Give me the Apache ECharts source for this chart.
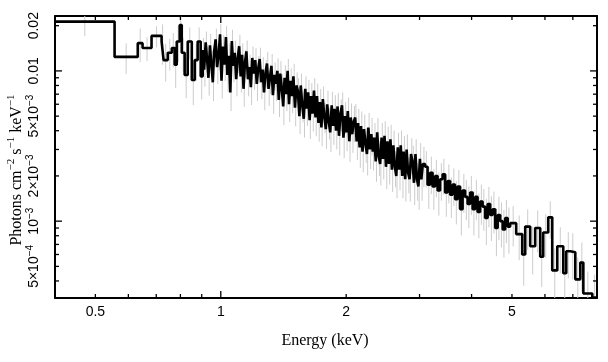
<!DOCTYPE html>
<html><head><meta charset="utf-8">
<script src="https://cdn.jsdelivr.net/npm/echarts@6/dist/echarts.min.js"></script>
<style>html,body{margin:0;padding:0;background:#fff}#c{width:608px;height:362px}</style>
</head><body><div id="c"></div>
<script>
// Bin edges (keV)
const binEdges = [
  0.400, 0.556, 0.632, 0.649, 0.682, 0.721, 0.729, 0.746, 0.763, 0.775, 0.784, 0.797, 0.806,
  0.819, 0.833, 0.852, 0.866, 0.880, 0.895,
  0.905, 0.912, 0.920, 0.927, 0.934, 0.942, 0.949, 0.957, 0.964, 0.972, 0.980, 0.988, 0.996,
  1.004, 1.012, 1.021, 1.029, 1.037, 1.046, 1.054, 1.063, 1.071, 1.080, 1.089, 1.098, 1.107,
  1.116, 1.125, 1.134, 1.143, 1.152, 1.162, 1.171, 1.181, 1.190, 1.200, 1.210, 1.220, 1.230,
  1.240, 1.250, 1.260, 1.270, 1.281, 1.291, 1.302, 1.312, 1.323, 1.334, 1.345, 1.356, 1.367,
  1.378, 1.389, 1.400, 1.412, 1.423, 1.435, 1.447, 1.458, 1.470, 1.482, 1.494, 1.507, 1.519,
  1.531, 1.544, 1.556, 1.569, 1.582, 1.595, 1.608, 1.621, 1.634, 1.647, 1.661, 1.674, 1.688,
  1.702, 1.716, 1.730, 1.744, 1.758, 1.772, 1.787, 1.801, 1.816, 1.831, 1.846, 1.861, 1.876,
  1.891, 1.907, 1.922, 1.938, 1.954, 1.970, 1.986, 2.002, 2.018, 2.035, 2.051, 2.068, 2.085,
  2.102, 2.119, 2.136, 2.154, 2.171, 2.189, 2.207, 2.225, 2.243, 2.261, 2.280, 2.298, 2.317,
  2.336, 2.355, 2.374, 2.393, 2.413, 2.432, 2.452, 2.472, 2.492, 2.513, 2.533, 2.554, 2.575,
  2.596, 2.617, 2.638, 2.660, 2.682, 2.704, 2.726, 2.748, 2.771, 2.793, 2.816, 2.839, 2.862,
  2.886, 2.909, 2.933, 2.957, 2.981, 3.006, 3.030, 3.055,
  3.093, 3.136, 3.180, 3.224, 3.269, 3.315, 3.361, 3.408, 3.455, 3.503, 3.552, 3.601, 3.651,
  3.702, 3.754, 3.806, 3.859, 3.913, 3.967, 4.023, 4.079, 4.135, 4.193, 4.251, 4.311, 4.371,
  4.432, 4.494, 4.557, 4.620, 4.685, 4.750, 4.816, 4.883,
  4.951, 5.118, 5.291, 5.380, 5.530, 5.685, 5.845, 5.943, 6.110, 6.247, 6.423, 6.639, 6.750,
  6.903, 7.096, 7.295, 7.418, 7.795, 8.000
];
// Flux per bin (photons cm^-2 s^-1 keV^-1)
const flux = [
  21.3e-3, 12.4e-3, 15.3e-3, 14.2e-3, 17.1e-3, 15.7e-3, 11.8e-3, 13.2e-3, 14.2e-3, 11.0e-3,
  15.7e-3, 20.2e-3, 13.2e-3, 9.4e-3, 15.7e-3, 8.7e-3, 11.8e-3, 15.7e-3, 9.2e-3,
  13.8e-3, 10.2e-3, 15.5e-3, 12.0e-3, 9.0e-3, 14.8e-3, 11.2e-3, 8.4e-3, 13.5e-3, 16.2e-3, 10.6e-3, 12.8e-3, 17.5e-3,
  8.6e-3, 14.5e-3, 11.0e-3, 16.8e-3, 9.4e-3, 12.6e-3, 7.2e-3, 15.8e-3, 10.8e-3, 13.2e-3, 8.8e-3, 12.2e-3, 14.6e-3,
  9.2e-3, 12.8e-3, 7.6e-3, 11.4e-3, 13.5e-3, 8.8e-3, 10.6e-3, 7.8e-3, 12.2e-3, 9.6e-3, 11.8e-3, 8.2e-3, 10.4e-3,
  12.0e-3, 8.4e-3, 10.2e-3, 7.2e-3, 9.8e-3, 11.2e-3, 7.6e-3, 9.0e-3, 10.8e-3, 6.9e-3, 9.4e-3, 8.2e-3, 10.0e-3,
  6.4e-3, 9.6e-3, 7.8e-3, 5.8e-3, 9.0e-3, 7.0e-3, 10.0e-3, 6.0e-3, 8.6e-3, 6.8e-3, 9.2e-3, 5.7e-3, 8.0e-3,
  7.4e-3, 5.0e-3, 8.0e-3, 5.9e-3, 4.8e-3, 7.6e-3, 5.6e-3, 7.2e-3, 4.7e-3, 6.8e-3, 5.2e-3, 7.4e-3, 4.9e-3,
  6.8e-3, 4.5e-3, 6.2e-3, 4.2e-3, 6.5e-3, 5.0e-3, 4.1e-3, 6.0e-3, 4.6e-3, 3.9e-3, 5.9e-3, 4.3e-3, 5.6e-3,
  4.0e-3, 5.8e-3, 3.7e-3, 5.2e-3, 5.9e-3, 3.6e-3, 5.0e-3, 3.9e-3, 5.4e-3, 3.4e-3, 4.9e-3, 3.8e-3, 4.6e-3,
  4.9e-3, 3.4e-3, 4.5e-3, 3.1e-3, 4.3e-3, 2.9e-3, 4.1e-3, 3.3e-3, 2.8e-3, 4.2e-3, 3.0e-3, 3.8e-3, 2.9e-3,
  3.6e-3, 2.5e-3, 3.9e-3, 2.7e-3, 2.4e-3, 3.6e-3, 2.6e-3, 3.7e-3, 2.3e-3, 3.4e-3, 2.4e-3, 3.5e-3, 2.2e-3,
  3.2e-3, 2.3e-3, 2.0e-3, 3.1e-3, 2.2e-3, 3.2e-3, 2.0e-3, 2.9e-3, 1.9e-3, 3.0e-3, 2.1e-3, 1.9e-3, 2.8e-3,
  2.5e-3, 1.8e-3, 2.8e-3, 1.9e-3, 1.7e-3, 2.6e-3, 1.9e-3, 2.4e-3,
  2.3e-3, 1.75e-3, 2.1e-3, 1.7e-3, 2.0e-3, 1.6e-3, 1.9e-3, 2.05e-3, 1.55e-3, 1.85e-3,
  1.5e-3, 1.75e-3, 1.4e-3, 1.7e-3, 1.2e-3, 1.6e-3, 1.45e-3, 1.3e-3, 1.55e-3, 1.2e-3,
  1.45e-3, 1.15e-3, 1.35e-3, 1.25e-3, 1.05e-3, 1.3e-3, 1.1e-3, 1.2e-3, 0.9e-3, 1.1e-3,
  1.0e-3, 0.88e-3, 1.05e-3, 0.92e-3,
  0.97e-3, 0.82e-3, 0.60e-3, 0.92e-3, 0.68e-3, 0.90e-3, 0.58e-3, 0.84e-3, 1.06e-3, 0.47e-3,
  0.68e-3, 0.45e-3, 0.63e-3, 0.62e-3, 0.41e-3, 0.53e-3, 0.33e-3, 0.31e-3
];
// Relative 1-sigma error per bin
const fluxRelErr = [
  0.20, 0.23, 0.25, 0.18, 0.16, 0.30, 0.28, 0.24, 0.26, 0.30, 0.27, 0.22, 0.26, 0.30, 0.24,
  0.32, 0.27, 0.24, 0.30,
  0.20, 0.23, 0.18, 0.21, 0.24, 0.19, 0.22, 0.25, 0.20, 0.18, 0.23, 0.21, 0.17,
  0.24, 0.19, 0.22, 0.18, 0.23, 0.21, 0.25, 0.19, 0.22, 0.20, 0.23, 0.21, 0.19,
  0.22, 0.19, 0.24, 0.21, 0.18, 0.23, 0.21, 0.24, 0.19, 0.22, 0.20, 0.23, 0.21,
  0.19, 0.23, 0.21, 0.24, 0.21, 0.19, 0.23, 0.22, 0.20, 0.25, 0.21, 0.23, 0.21,
  0.23, 0.21, 0.22, 0.25, 0.21, 0.23, 0.20, 0.24, 0.21, 0.23, 0.21, 0.25, 0.22,
  0.21, 0.24, 0.20, 0.23, 0.25, 0.21, 0.23, 0.21, 0.25, 0.22, 0.24, 0.21, 0.25,
  0.21, 0.25, 0.22, 0.25, 0.21, 0.23, 0.26, 0.23, 0.24, 0.26, 0.23, 0.25, 0.23,
  0.25, 0.23, 0.26, 0.24, 0.22, 0.27, 0.24, 0.25, 0.23, 0.27, 0.24, 0.25, 0.27,
  0.23, 0.25, 0.24, 0.27, 0.25, 0.27, 0.25, 0.26, 0.28, 0.25, 0.26, 0.28, 0.25,
  0.25, 0.27, 0.24, 0.26, 0.28, 0.25, 0.27, 0.25, 0.29, 0.25, 0.27, 0.25, 0.29,
  0.25, 0.27, 0.29, 0.25, 0.27, 0.25, 0.29, 0.27, 0.29, 0.26, 0.27, 0.29, 0.27,
  0.27, 0.29, 0.25, 0.28, 0.30, 0.27, 0.28, 0.30,
  0.27, 0.31, 0.28, 0.30, 0.28, 0.32, 0.28, 0.27, 0.31, 0.29, 0.30, 0.28, 0.32, 0.29, 0.33,
  0.29, 0.30, 0.31, 0.29, 0.33, 0.30, 0.33, 0.30, 0.31, 0.34, 0.30, 0.33, 0.31, 0.35, 0.32,
  0.33, 0.35, 0.32, 0.34,
  0.30, 0.33, 0.38, 0.30, 0.35, 0.31, 0.37, 0.32, 0.28, 0.40, 0.34, 0.40, 0.34, 0.34, 0.40,
  0.36, 0.40, 0.42
];

const xRange = [0.4, 8];
const yRange = [3.08e-4, 0.0232];
const xMajorTicks = [1];
const xMinorTicks = [0.5, 0.6, 0.7, 0.8, 0.9, 2, 3, 4, 5, 6, 7];
const xLabelValues = [0.5, 1, 2, 5];
const xLabelTexts = ['0.5', '1', '2', '5'];
const yMajorTicks = [0.01, 0.001];
const yMinorTicks = [0.02, 0.009, 0.008, 0.007, 0.006, 0.005, 0.004, 0.003, 0.002,
                     0.0009, 0.0008, 0.0007, 0.0006, 0.0005, 0.0004];
const yLabelValues = [0.02, 0.01, 0.005, 0.002, 0.001, 0.0005];
const yLabelTexts = ['0.02', '0.01', '5×10{s|−3}', '2×10{s|−3}', '10{s|−3}', '5×10{s|−4}'];
const xTitle = 'Energy (keV)';
const yTitle = 'Photons cm{s|−2} s{s|−1} keV{s|−1}';

const SANS = '"Liberation Sans", Arial, Helvetica, sans-serif';
const SERIF = '"Liberation Serif", "Times New Roman", Times, serif';

const nBins = Math.min(flux.length, binEdges.length - 1, fluxRelErr.length);
const stepData = [];
for (let i = 0; i < nBins; i++) {
  stepData.push([binEdges[i], flux[i]], [binEdges[i + 1], flux[i]]);
}
const errData = [];
for (let i = 0; i < nBins; i++) {
  errData.push([Math.sqrt(binEdges[i] * binEdges[i + 1]),
    flux[i] * (1 - fluxRelErr[i]), flux[i] * (1 + fluxRelErr[i])]);
}

const MAJ = 7, MIN = 4;
const xTickData = xMajorTicks.map(v => [v, yRange[0], MAJ]).concat(xMinorTicks.map(v => [v, yRange[0], MIN]));
const yTickData = yMajorTicks.map(v => [xRange[0], v, MAJ]).concat(yMinorTicks.map(v => [xRange[0], v, MIN]));

const tickStyle = { stroke: '#000', lineWidth: 1.3 };

const axisBase = {
  type: 'log', logBase: 10,
  axisLine: { show: true, lineStyle: { color: '#000', width: 2 } },
  axisTick: { show: false }, axisLabel: { show: false },
  splitLine: { show: false }, minorTick: { show: false }
};

const chart = echarts.init(document.getElementById('c'), null, { renderer: 'canvas' });
chart.setOption({
  animation: false,
  backgroundColor: '#fff',
  grid: { left: 55, right: 11, top: 16, bottom: 64, containLabel: false },
  xAxis: [
    Object.assign({}, axisBase, { position: 'bottom', min: xRange[0], max: xRange[1] }),
    Object.assign({}, axisBase, { position: 'top', min: xRange[0], max: xRange[1] })
  ],
  yAxis: [
    Object.assign({}, axisBase, { position: 'left', min: yRange[0], max: yRange[1] }),
    Object.assign({}, axisBase, { position: 'right', min: yRange[0], max: yRange[1] })
  ],
  graphic: [
    { type: 'text', x: 325, y: 341, style: { text: xTitle, font: '16px ' + SERIF, fill: '#000', align: 'center', verticalAlign: 'middle' } },
    { type: 'text', x: 17, y: 170, rotation: Math.PI / 2,
      style: { text: yTitle, fontSize: 16, fontFamily: SERIF, lineHeight: 22, fill: '#000', align: 'center', verticalAlign: 'middle',
        rich: { s: { fontSize: 11, fontFamily: SERIF, lineHeight: 11, verticalAlign: 'top', fill: '#000' } } } }
  ],
  series: [
    {
      type: 'custom', name: 'errors', xAxisIndex: 0, yAxisIndex: 0, clip: true, silent: true,
      data: errData, z: 1,
      renderItem: (params, api) => {
        const x = api.value(0);
        const lo = Math.max(api.value(1), yRange[0]);
        const hi = Math.min(api.value(2), yRange[1]);
        const p1 = api.coord([x, lo]), p2 = api.coord([x, hi]);
        return { type: 'line', shape: { x1: p1[0], y1: p1[1], x2: p2[0], y2: p2[1] },
          style: { stroke: '#cccccc', lineWidth: 1 } };
      }
    },
    {
      type: 'line', name: 'spectrum', data: stepData, showSymbol: false, symbol: 'none',
      lineStyle: { color: '#000', width: 2.6 }, silent: true, z: 3, clip: true
    },
    {
      type: 'custom', name: 'xticks', data: xTickData, clip: false, silent: true, z: 5,
      renderItem: (params, api) => {
        const v = api.value(0), len = api.value(2);
        const pb = api.coord([v, yRange[0]]), pt = api.coord([v, yRange[1]]);
        return { type: 'group', children: [
          { type: 'line', shape: { x1: pb[0], y1: pb[1], x2: pb[0], y2: pb[1] - len }, style: tickStyle },
          { type: 'line', shape: { x1: pt[0], y1: pt[1], x2: pt[0], y2: pt[1] + len }, style: tickStyle }
        ] };
      }
    },
    {
      type: 'custom', name: 'yticks', data: yTickData, clip: false, silent: true, z: 5,
      renderItem: (params, api) => {
        const v = api.value(1), len = api.value(2);
        const pl = api.coord([xRange[0], v]), pr = api.coord([xRange[1], v]);
        return { type: 'group', children: [
          { type: 'line', shape: { x1: pl[0], y1: pl[1], x2: pl[0] + len, y2: pl[1] }, style: tickStyle },
          { type: 'line', shape: { x1: pr[0], y1: pr[1], x2: pr[0] - len, y2: pr[1] }, style: tickStyle }
        ] };
      }
    },
    {
      type: 'custom', name: 'xlabels', data: xLabelValues.map(v => [v, yRange[0]]), clip: false, silent: true, z: 5,
      renderItem: (params, api) => {
        const p = api.coord([api.value(0), yRange[0]]);
        return { type: 'text', x: p[0], y: p[1] + 14,
          style: { text: xLabelTexts[params.dataIndex], font: '14px ' + SANS, fill: '#000', align: 'center', verticalAlign: 'middle' } };
      }
    },
    {
      type: 'custom', name: 'ylabels', data: yLabelValues.map(v => [xRange[0], v]), clip: false, silent: true, z: 5,
      renderItem: (params, api) => {
        const p = api.coord([xRange[0], api.value(1)]);
        return { type: 'text', x: p[0] - 21, y: p[1], rotation: Math.PI / 2,
          style: { text: yLabelTexts[params.dataIndex], fontSize: 14, fontFamily: SANS, lineHeight: 18, fill: '#000',
            align: 'center', verticalAlign: 'middle',
            rich: { s: { fontSize: 10, fontFamily: SANS, lineHeight: 10, verticalAlign: 'top', fill: '#000' } } } };
      }
    }
  ]
});
</script>
</body></html>
